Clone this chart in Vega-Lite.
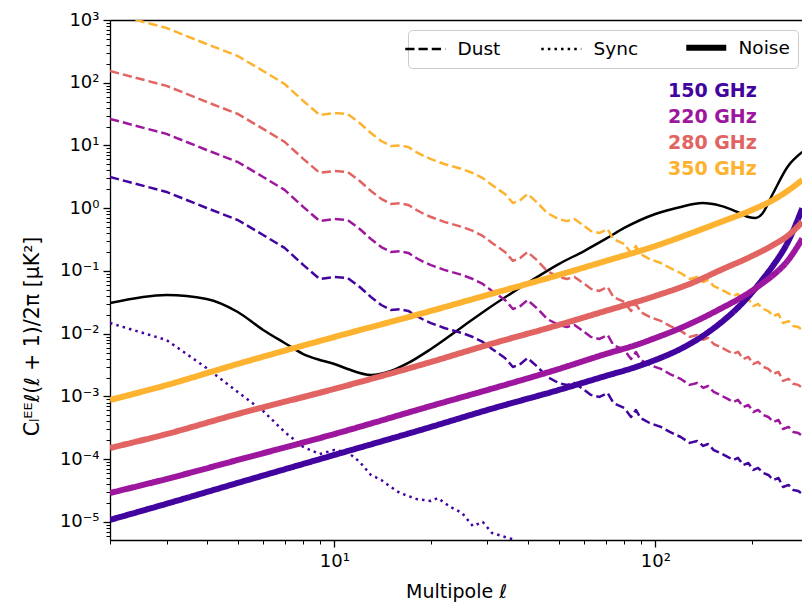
{
  "$schema": "https://vega.github.io/schema/vega-lite/v6.json",
  "width": 692,
  "height": 520,
  "autosize": {"type": "none"},
  "padding": {"left": 110, "top": 20, "right": 0, "bottom": 62},
  "background": "white",
  "config": {
    "font": "DejaVu Sans",
    "view": {"stroke": null},
    "axis": {
      "grid": false,
      "labelFont": "DejaVu Sans",
      "titleFont": "DejaVu Sans",
      "labelColor": "black",
      "titleColor": "black",
      "tickColor": "black",
      "domainColor": "black",
      "titleFontWeight": "normal"
    },
    "legend": {"labelFont": "DejaVu Sans", "labelColor": "black"}
  },
  "datasets": {
    "cmb": [
      {"ell": 2, "cl": 0.0309}, {"ell": 3, "cl": 0.0415}, {"ell": 4, "cl": 0.0358},
      {"ell": 5, "cl": 0.0222}, {"ell": 6, "cl": 0.0115}, {"ell": 7, "cl": 0.00713},
      {"ell": 8, "cl": 0.00475}, {"ell": 9, "cl": 0.00382}, {"ell": 10, "cl": 0.0033},
      {"ell": 11, "cl": 0.00274}, {"ell": 13, "cl": 0.0022}, {"ell": 15, "cl": 0.00255},
      {"ell": 17, "cl": 0.00342}, {"ell": 20, "cl": 0.00571}, {"ell": 25, "cl": 0.01282},
      {"ell": 30, "cl": 0.0248}, {"ell": 40, "cl": 0.0644}, {"ell": 50, "cl": 0.129},
      {"ell": 60, "cl": 0.208}, {"ell": 70, "cl": 0.324}, {"ell": 80, "cl": 0.485},
      {"ell": 100, "cl": 0.81}, {"ell": 120, "cl": 1.05}, {"ell": 140, "cl": 1.21},
      {"ell": 160, "cl": 1.09}, {"ell": 180, "cl": 0.871}, {"ell": 195, "cl": 0.726},
      {"ell": 205, "cl": 0.7}, {"ell": 215, "cl": 0.81}, {"ell": 233, "cl": 1.75},
      {"ell": 258, "cl": 4.54}, {"ell": 287, "cl": 7.87}
    ],
    "curves": [
      {"comp": "Noise", "freq": "150 GHz", "ell": 2, "cl": 1.08e-5},
      {"comp": "Noise", "freq": "150 GHz", "ell": 3, "cl": 1.95e-5},
      {"comp": "Noise", "freq": "150 GHz", "ell": 5, "cl": 4.19e-5},
      {"comp": "Noise", "freq": "150 GHz", "ell": 10, "cl": 1.17e-4},
      {"comp": "Noise", "freq": "150 GHz", "ell": 20, "cl": 3.27e-4},
      {"comp": "Noise", "freq": "150 GHz", "ell": 30, "cl": 6.1e-4},
      {"comp": "Noise", "freq": "150 GHz", "ell": 50, "cl": 1.27e-3},
      {"comp": "Noise", "freq": "150 GHz", "ell": 70, "cl": 2.12e-3},
      {"comp": "Noise", "freq": "150 GHz", "ell": 88, "cl": 3.01e-3},
      {"comp": "Noise", "freq": "150 GHz", "ell": 100, "cl": 3.82e-3},
      {"comp": "Noise", "freq": "150 GHz", "ell": 120, "cl": 5.75e-3},
      {"comp": "Noise", "freq": "150 GHz", "ell": 141, "cl": 9.31e-3},
      {"comp": "Noise", "freq": "150 GHz", "ell": 160, "cl": 0.015},
      {"comp": "Noise", "freq": "150 GHz", "ell": 180, "cl": 0.0255},
      {"comp": "Noise", "freq": "150 GHz", "ell": 200, "cl": 0.0454},
      {"comp": "Noise", "freq": "150 GHz", "ell": 216, "cl": 0.0738},
      {"comp": "Noise", "freq": "150 GHz", "ell": 233, "cl": 0.123},
      {"comp": "Noise", "freq": "150 GHz", "ell": 258, "cl": 0.281},
      {"comp": "Noise", "freq": "150 GHz", "ell": 287, "cl": 0.995},
      {"comp": "Noise", "freq": "220 GHz", "ell": 2, "cl": 2.9e-5},
      {"comp": "Noise", "freq": "220 GHz", "ell": 3, "cl": 4.84e-5},
      {"comp": "Noise", "freq": "220 GHz", "ell": 5, "cl": 9.73e-5},
      {"comp": "Noise", "freq": "220 GHz", "ell": 10, "cl": 2.52e-4},
      {"comp": "Noise", "freq": "220 GHz", "ell": 20, "cl": 7.06e-4},
      {"comp": "Noise", "freq": "220 GHz", "ell": 30, "cl": 1.27e-3},
      {"comp": "Noise", "freq": "220 GHz", "ell": 50, "cl": 2.74e-3},
      {"comp": "Noise", "freq": "220 GHz", "ell": 70, "cl": 4.75e-3},
      {"comp": "Noise", "freq": "220 GHz", "ell": 88, "cl": 6.74e-3},
      {"comp": "Noise", "freq": "220 GHz", "ell": 100, "cl": 8.55e-3},
      {"comp": "Noise", "freq": "220 GHz", "ell": 120, "cl": 0.01236},
      {"comp": "Noise", "freq": "220 GHz", "ell": 141, "cl": 0.01807},
      {"comp": "Noise", "freq": "220 GHz", "ell": 160, "cl": 0.0252},
      {"comp": "Noise", "freq": "220 GHz", "ell": 180, "cl": 0.0348},
      {"comp": "Noise", "freq": "220 GHz", "ell": 200, "cl": 0.0483},
      {"comp": "Noise", "freq": "220 GHz", "ell": 216, "cl": 0.0641},
      {"comp": "Noise", "freq": "220 GHz", "ell": 233, "cl": 0.0861},
      {"comp": "Noise", "freq": "220 GHz", "ell": 258, "cl": 0.144},
      {"comp": "Noise", "freq": "220 GHz", "ell": 287, "cl": 0.328},
      {"comp": "Noise", "freq": "280 GHz", "ell": 2, "cl": 1.51e-4},
      {"comp": "Noise", "freq": "280 GHz", "ell": 3, "cl": 2.52e-4},
      {"comp": "Noise", "freq": "280 GHz", "ell": 5, "cl": 5.26e-4},
      {"comp": "Noise", "freq": "280 GHz", "ell": 10, "cl": 1.32e-3},
      {"comp": "Noise", "freq": "280 GHz", "ell": 20, "cl": 3.55e-3},
      {"comp": "Noise", "freq": "280 GHz", "ell": 30, "cl": 6.62e-3},
      {"comp": "Noise", "freq": "280 GHz", "ell": 50, "cl": 0.0138},
      {"comp": "Noise", "freq": "280 GHz", "ell": 70, "cl": 0.0231},
      {"comp": "Noise", "freq": "280 GHz", "ell": 100, "cl": 0.04},
      {"comp": "Noise", "freq": "280 GHz", "ell": 130, "cl": 0.0644},
      {"comp": "Noise", "freq": "280 GHz", "ell": 160, "cl": 0.104},
      {"comp": "Noise", "freq": "280 GHz", "ell": 200, "cl": 0.173},
      {"comp": "Noise", "freq": "280 GHz", "ell": 230, "cl": 0.25},
      {"comp": "Noise", "freq": "280 GHz", "ell": 258, "cl": 0.361},
      {"comp": "Noise", "freq": "280 GHz", "ell": 287, "cl": 0.604},
      {"comp": "Noise", "freq": "350 GHz", "ell": 2, "cl": 8.79e-4},
      {"comp": "Noise", "freq": "350 GHz", "ell": 3, "cl": 1.52e-3},
      {"comp": "Noise", "freq": "350 GHz", "ell": 5, "cl": 3.3e-3},
      {"comp": "Noise", "freq": "350 GHz", "ell": 10, "cl": 8.87e-3},
      {"comp": "Noise", "freq": "350 GHz", "ell": 20, "cl": 0.0231},
      {"comp": "Noise", "freq": "350 GHz", "ell": 30, "cl": 0.0415},
      {"comp": "Noise", "freq": "350 GHz", "ell": 50, "cl": 0.0863},
      {"comp": "Noise", "freq": "350 GHz", "ell": 70, "cl": 0.144},
      {"comp": "Noise", "freq": "350 GHz", "ell": 100, "cl": 0.25},
      {"comp": "Noise", "freq": "350 GHz", "ell": 130, "cl": 0.404},
      {"comp": "Noise", "freq": "350 GHz", "ell": 160, "cl": 0.604},
      {"comp": "Noise", "freq": "350 GHz", "ell": 200, "cl": 0.938},
      {"comp": "Noise", "freq": "350 GHz", "ell": 230, "cl": 1.31},
      {"comp": "Noise", "freq": "350 GHz", "ell": 258, "cl": 1.88},
      {"comp": "Noise", "freq": "350 GHz", "ell": 287, "cl": 2.82},

      {"comp": "Sync", "freq": "150 GHz", "ell": 2, "cl": 0.0148},
      {"comp": "Sync", "freq": "150 GHz", "ell": 3, "cl": 0.00794},
      {"comp": "Sync", "freq": "150 GHz", "ell": 4, "cl": 0.00284},
      {"comp": "Sync", "freq": "150 GHz", "ell": 5, "cl": 0.00118},
      {"comp": "Sync", "freq": "150 GHz", "ell": 6, "cl": 0.000587},
      {"comp": "Sync", "freq": "150 GHz", "ell": 7, "cl": 0.000272},
      {"comp": "Sync", "freq": "150 GHz", "ell": 8, "cl": 0.000157},
      {"comp": "Sync", "freq": "150 GHz", "ell": 9, "cl": 0.000121},
      {"comp": "Sync", "freq": "150 GHz", "ell": 10, "cl": 0.00014},
      {"comp": "Sync", "freq": "150 GHz", "ell": 11, "cl": 0.00013},
      {"comp": "Sync", "freq": "150 GHz", "ell": 12, "cl": 9.04e-5},
      {"comp": "Sync", "freq": "150 GHz", "ell": 13, "cl": 5.61e-5},
      {"comp": "Sync", "freq": "150 GHz", "ell": 14, "cl": 4.67e-5},
      {"comp": "Sync", "freq": "150 GHz", "ell": 15, "cl": 3.61e-5},
      {"comp": "Sync", "freq": "150 GHz", "ell": 16, "cl": 2.9e-5},
      {"comp": "Sync", "freq": "150 GHz", "ell": 17, "cl": 2.59e-5},
      {"comp": "Sync", "freq": "150 GHz", "ell": 18, "cl": 2.33e-5},
      {"comp": "Sync", "freq": "150 GHz", "ell": 19, "cl": 2.24e-5},
      {"comp": "Sync", "freq": "150 GHz", "ell": 20, "cl": 2.16e-5},
      {"comp": "Sync", "freq": "150 GHz", "ell": 21, "cl": 2.41e-5},
      {"comp": "Sync", "freq": "150 GHz", "ell": 23, "cl": 1.73e-5},
      {"comp": "Sync", "freq": "150 GHz", "ell": 25, "cl": 1.39e-5},
      {"comp": "Sync", "freq": "150 GHz", "ell": 27, "cl": 8.63e-6},
      {"comp": "Sync", "freq": "150 GHz", "ell": 29, "cl": 1.0e-5},
      {"comp": "Sync", "freq": "150 GHz", "ell": 31, "cl": 6.68e-6},
      {"comp": "Sync", "freq": "150 GHz", "ell": 34, "cl": 5.77e-6},
      {"comp": "Sync", "freq": "150 GHz", "ell": 36, "cl": 5.3e-6},
      {"comp": "Sync", "freq": "150 GHz", "ell": 38, "cl": 4.3e-6},
      {"comp": "Sync", "freq": "150 GHz", "ell": 40, "cl": 3.8e-6},

      {"comp": "Dust", "freq": "150 GHz", "ell": 2, "cl": 3.15},
      {"comp": "Dust", "freq": "150 GHz", "ell": 3, "cl": 1.82},
      {"comp": "Dust", "freq": "150 GHz", "ell": 4, "cl": 1.01},
      {"comp": "Dust", "freq": "150 GHz", "ell": 5, "cl": 0.65},
      {"comp": "Dust", "freq": "150 GHz", "ell": 6, "cl": 0.375},
      {"comp": "Dust", "freq": "150 GHz", "ell": 7, "cl": 0.233},
      {"comp": "Dust", "freq": "150 GHz", "ell": 8, "cl": 0.125},
      {"comp": "Dust", "freq": "150 GHz", "ell": 9, "cl": 0.0746},
      {"comp": "Dust", "freq": "150 GHz", "ell": 10, "cl": 0.0802},
      {"comp": "Dust", "freq": "150 GHz", "ell": 11, "cl": 0.0773},
      {"comp": "Dust", "freq": "150 GHz", "ell": 12, "cl": 0.0556},
      {"comp": "Dust", "freq": "150 GHz", "ell": 13, "cl": 0.0385},
      {"comp": "Dust", "freq": "150 GHz", "ell": 14, "cl": 0.0287},
      {"comp": "Dust", "freq": "150 GHz", "ell": 15, "cl": 0.0239},
      {"comp": "Dust", "freq": "150 GHz", "ell": 16, "cl": 0.0245},
      {"comp": "Dust", "freq": "150 GHz", "ell": 17, "cl": 0.0231},
      {"comp": "Dust", "freq": "150 GHz", "ell": 18, "cl": 0.0192},
      {"comp": "Dust", "freq": "150 GHz", "ell": 19, "cl": 0.0166},
      {"comp": "Dust", "freq": "150 GHz", "ell": 20, "cl": 0.0148},
      {"comp": "Dust", "freq": "150 GHz", "ell": 22, "cl": 0.01236},
      {"comp": "Dust", "freq": "150 GHz", "ell": 25, "cl": 0.01028},
      {"comp": "Dust", "freq": "150 GHz", "ell": 27, "cl": 0.00887},
      {"comp": "Dust", "freq": "150 GHz", "ell": 29, "cl": 0.00739},
      {"comp": "Dust", "freq": "150 GHz", "ell": 31, "cl": 0.00571},
      {"comp": "Dust", "freq": "150 GHz", "ell": 34, "cl": 0.00411},
      {"comp": "Dust", "freq": "150 GHz", "ell": 36, "cl": 0.00295},
      {"comp": "Dust", "freq": "150 GHz", "ell": 38, "cl": 0.0033},
      {"comp": "Dust", "freq": "150 GHz", "ell": 40, "cl": 0.00411},
      {"comp": "Dust", "freq": "150 GHz", "ell": 43, "cl": 0.00295},
      {"comp": "Dust", "freq": "150 GHz", "ell": 46, "cl": 0.00205},
      {"comp": "Dust", "freq": "150 GHz", "ell": 50, "cl": 0.00164},
      {"comp": "Dust", "freq": "150 GHz", "ell": 53, "cl": 0.00152},
      {"comp": "Dust", "freq": "150 GHz", "ell": 56, "cl": 0.00164},
      {"comp": "Dust", "freq": "150 GHz", "ell": 59, "cl": 0.00136},
      {"comp": "Dust", "freq": "150 GHz", "ell": 63, "cl": 0.00106},
      {"comp": "Dust", "freq": "150 GHz", "ell": 67, "cl": 0.000982},
      {"comp": "Dust", "freq": "150 GHz", "ell": 71, "cl": 0.00114},
      {"comp": "Dust", "freq": "150 GHz", "ell": 74, "cl": 0.000788},
      {"comp": "Dust", "freq": "150 GHz", "ell": 80, "cl": 0.000656},
      {"comp": "Dust", "freq": "150 GHz", "ell": 84, "cl": 0.000471},
      {"comp": "Dust", "freq": "150 GHz", "ell": 87, "cl": 0.00061},
      {"comp": "Dust", "freq": "150 GHz", "ell": 90, "cl": 0.000454},
      {"comp": "Dust", "freq": "150 GHz", "ell": 96, "cl": 0.000378},
      {"comp": "Dust", "freq": "150 GHz", "ell": 104, "cl": 0.000327},
      {"comp": "Dust", "freq": "150 GHz", "ell": 111, "cl": 0.000272},
      {"comp": "Dust", "freq": "150 GHz", "ell": 120, "cl": 0.000226},
      {"comp": "Dust", "freq": "150 GHz", "ell": 128, "cl": 0.000182},
      {"comp": "Dust", "freq": "150 GHz", "ell": 135, "cl": 0.000195},
      {"comp": "Dust", "freq": "150 GHz", "ell": 141, "cl": 0.000163},
      {"comp": "Dust", "freq": "150 GHz", "ell": 146, "cl": 0.000175},
      {"comp": "Dust", "freq": "150 GHz", "ell": 152, "cl": 0.00014},
      {"comp": "Dust", "freq": "150 GHz", "ell": 159, "cl": 0.000126},
      {"comp": "Dust", "freq": "150 GHz", "ell": 168, "cl": 0.000109},
      {"comp": "Dust", "freq": "150 GHz", "ell": 175, "cl": 9.73e-5},
      {"comp": "Dust", "freq": "150 GHz", "ell": 181, "cl": 1.05e-4},
      {"comp": "Dust", "freq": "150 GHz", "ell": 188, "cl": 8.09e-5},
      {"comp": "Dust", "freq": "150 GHz", "ell": 195, "cl": 8.71e-5},
      {"comp": "Dust", "freq": "150 GHz", "ell": 202, "cl": 6.74e-5},
      {"comp": "Dust", "freq": "150 GHz", "ell": 209, "cl": 7.26e-5},
      {"comp": "Dust", "freq": "150 GHz", "ell": 217, "cl": 6.04e-5},
      {"comp": "Dust", "freq": "150 GHz", "ell": 225, "cl": 5.61e-5},
      {"comp": "Dust", "freq": "150 GHz", "ell": 233, "cl": 4.67e-5},
      {"comp": "Dust", "freq": "150 GHz", "ell": 242, "cl": 5.02e-5},
      {"comp": "Dust", "freq": "150 GHz", "ell": 250, "cl": 3.61e-5},
      {"comp": "Dust", "freq": "150 GHz", "ell": 260, "cl": 3.89e-5},
      {"comp": "Dust", "freq": "150 GHz", "ell": 269, "cl": 3.24e-5},
      {"comp": "Dust", "freq": "150 GHz", "ell": 279, "cl": 3.12e-5},
      {"comp": "Dust", "freq": "150 GHz", "ell": 287, "cl": 2.79e-5},

      {"comp": "Dust", "freq": "220 GHz", "ell": 2, "cl": 26.5},
      {"comp": "Dust", "freq": "220 GHz", "ell": 3, "cl": 15.3},
      {"comp": "Dust", "freq": "220 GHz", "ell": 4, "cl": 8.48},
      {"comp": "Dust", "freq": "220 GHz", "ell": 5, "cl": 5.46},
      {"comp": "Dust", "freq": "220 GHz", "ell": 6, "cl": 3.15},
      {"comp": "Dust", "freq": "220 GHz", "ell": 7, "cl": 1.96},
      {"comp": "Dust", "freq": "220 GHz", "ell": 8, "cl": 1.05},
      {"comp": "Dust", "freq": "220 GHz", "ell": 9, "cl": 0.627},
      {"comp": "Dust", "freq": "220 GHz", "ell": 10, "cl": 0.674},
      {"comp": "Dust", "freq": "220 GHz", "ell": 11, "cl": 0.649},
      {"comp": "Dust", "freq": "220 GHz", "ell": 12, "cl": 0.467},
      {"comp": "Dust", "freq": "220 GHz", "ell": 13, "cl": 0.323},
      {"comp": "Dust", "freq": "220 GHz", "ell": 14, "cl": 0.241},
      {"comp": "Dust", "freq": "220 GHz", "ell": 15, "cl": 0.201},
      {"comp": "Dust", "freq": "220 GHz", "ell": 16, "cl": 0.206},
      {"comp": "Dust", "freq": "220 GHz", "ell": 17, "cl": 0.194},
      {"comp": "Dust", "freq": "220 GHz", "ell": 18, "cl": 0.161},
      {"comp": "Dust", "freq": "220 GHz", "ell": 19, "cl": 0.139},
      {"comp": "Dust", "freq": "220 GHz", "ell": 20, "cl": 0.124},
      {"comp": "Dust", "freq": "220 GHz", "ell": 22, "cl": 0.104},
      {"comp": "Dust", "freq": "220 GHz", "ell": 25, "cl": 0.0864},
      {"comp": "Dust", "freq": "220 GHz", "ell": 27, "cl": 0.0745},
      {"comp": "Dust", "freq": "220 GHz", "ell": 29, "cl": 0.0621},
      {"comp": "Dust", "freq": "220 GHz", "ell": 31, "cl": 0.048},
      {"comp": "Dust", "freq": "220 GHz", "ell": 34, "cl": 0.0345},
      {"comp": "Dust", "freq": "220 GHz", "ell": 36, "cl": 0.0248},
      {"comp": "Dust", "freq": "220 GHz", "ell": 38, "cl": 0.0277},
      {"comp": "Dust", "freq": "220 GHz", "ell": 40, "cl": 0.0345},
      {"comp": "Dust", "freq": "220 GHz", "ell": 43, "cl": 0.0248},
      {"comp": "Dust", "freq": "220 GHz", "ell": 46, "cl": 0.0172},
      {"comp": "Dust", "freq": "220 GHz", "ell": 50, "cl": 0.0138},
      {"comp": "Dust", "freq": "220 GHz", "ell": 53, "cl": 0.0128},
      {"comp": "Dust", "freq": "220 GHz", "ell": 56, "cl": 0.0138},
      {"comp": "Dust", "freq": "220 GHz", "ell": 59, "cl": 0.0114},
      {"comp": "Dust", "freq": "220 GHz", "ell": 63, "cl": 0.0089},
      {"comp": "Dust", "freq": "220 GHz", "ell": 67, "cl": 0.00825},
      {"comp": "Dust", "freq": "220 GHz", "ell": 71, "cl": 0.00958},
      {"comp": "Dust", "freq": "220 GHz", "ell": 74, "cl": 0.00662},
      {"comp": "Dust", "freq": "220 GHz", "ell": 80, "cl": 0.00551},
      {"comp": "Dust", "freq": "220 GHz", "ell": 84, "cl": 0.00396},
      {"comp": "Dust", "freq": "220 GHz", "ell": 87, "cl": 0.00512},
      {"comp": "Dust", "freq": "220 GHz", "ell": 90, "cl": 0.00381},
      {"comp": "Dust", "freq": "220 GHz", "ell": 96, "cl": 0.00318},
      {"comp": "Dust", "freq": "220 GHz", "ell": 104, "cl": 0.00275},
      {"comp": "Dust", "freq": "220 GHz", "ell": 111, "cl": 0.00228},
      {"comp": "Dust", "freq": "220 GHz", "ell": 120, "cl": 0.0019},
      {"comp": "Dust", "freq": "220 GHz", "ell": 128, "cl": 0.00153},
      {"comp": "Dust", "freq": "220 GHz", "ell": 135, "cl": 0.00164},
      {"comp": "Dust", "freq": "220 GHz", "ell": 141, "cl": 0.00137},
      {"comp": "Dust", "freq": "220 GHz", "ell": 146, "cl": 0.00147},
      {"comp": "Dust", "freq": "220 GHz", "ell": 152, "cl": 0.00118},
      {"comp": "Dust", "freq": "220 GHz", "ell": 159, "cl": 0.00106},
      {"comp": "Dust", "freq": "220 GHz", "ell": 168, "cl": 0.000916},
      {"comp": "Dust", "freq": "220 GHz", "ell": 175, "cl": 0.000817},
      {"comp": "Dust", "freq": "220 GHz", "ell": 181, "cl": 0.000882},
      {"comp": "Dust", "freq": "220 GHz", "ell": 188, "cl": 0.00068},
      {"comp": "Dust", "freq": "220 GHz", "ell": 195, "cl": 0.000732},
      {"comp": "Dust", "freq": "220 GHz", "ell": 202, "cl": 0.000566},
      {"comp": "Dust", "freq": "220 GHz", "ell": 209, "cl": 0.00061},
      {"comp": "Dust", "freq": "220 GHz", "ell": 217, "cl": 0.000507},
      {"comp": "Dust", "freq": "220 GHz", "ell": 225, "cl": 0.000471},
      {"comp": "Dust", "freq": "220 GHz", "ell": 233, "cl": 0.000392},
      {"comp": "Dust", "freq": "220 GHz", "ell": 242, "cl": 0.000422},
      {"comp": "Dust", "freq": "220 GHz", "ell": 250, "cl": 0.000303},
      {"comp": "Dust", "freq": "220 GHz", "ell": 260, "cl": 0.000327},
      {"comp": "Dust", "freq": "220 GHz", "ell": 269, "cl": 0.000272},
      {"comp": "Dust", "freq": "220 GHz", "ell": 279, "cl": 0.000262},
      {"comp": "Dust", "freq": "220 GHz", "ell": 287, "cl": 0.000234},

      {"comp": "Dust", "freq": "280 GHz", "ell": 2, "cl": 154},
      {"comp": "Dust", "freq": "280 GHz", "ell": 3, "cl": 89.2},
      {"comp": "Dust", "freq": "280 GHz", "ell": 4, "cl": 49.5},
      {"comp": "Dust", "freq": "280 GHz", "ell": 5, "cl": 31.9},
      {"comp": "Dust", "freq": "280 GHz", "ell": 6, "cl": 18.4},
      {"comp": "Dust", "freq": "280 GHz", "ell": 7, "cl": 11.4},
      {"comp": "Dust", "freq": "280 GHz", "ell": 8, "cl": 6.13},
      {"comp": "Dust", "freq": "280 GHz", "ell": 9, "cl": 3.66},
      {"comp": "Dust", "freq": "280 GHz", "ell": 10, "cl": 3.93},
      {"comp": "Dust", "freq": "280 GHz", "ell": 11, "cl": 3.79},
      {"comp": "Dust", "freq": "280 GHz", "ell": 12, "cl": 2.72},
      {"comp": "Dust", "freq": "280 GHz", "ell": 13, "cl": 1.89},
      {"comp": "Dust", "freq": "280 GHz", "ell": 14, "cl": 1.41},
      {"comp": "Dust", "freq": "280 GHz", "ell": 15, "cl": 1.17},
      {"comp": "Dust", "freq": "280 GHz", "ell": 16, "cl": 1.2},
      {"comp": "Dust", "freq": "280 GHz", "ell": 17, "cl": 1.13},
      {"comp": "Dust", "freq": "280 GHz", "ell": 18, "cl": 0.941},
      {"comp": "Dust", "freq": "280 GHz", "ell": 19, "cl": 0.813},
      {"comp": "Dust", "freq": "280 GHz", "ell": 20, "cl": 0.725},
      {"comp": "Dust", "freq": "280 GHz", "ell": 22, "cl": 0.606},
      {"comp": "Dust", "freq": "280 GHz", "ell": 25, "cl": 0.504},
      {"comp": "Dust", "freq": "280 GHz", "ell": 27, "cl": 0.435},
      {"comp": "Dust", "freq": "280 GHz", "ell": 29, "cl": 0.362},
      {"comp": "Dust", "freq": "280 GHz", "ell": 31, "cl": 0.28},
      {"comp": "Dust", "freq": "280 GHz", "ell": 34, "cl": 0.201},
      {"comp": "Dust", "freq": "280 GHz", "ell": 36, "cl": 0.145},
      {"comp": "Dust", "freq": "280 GHz", "ell": 38, "cl": 0.162},
      {"comp": "Dust", "freq": "280 GHz", "ell": 40, "cl": 0.201},
      {"comp": "Dust", "freq": "280 GHz", "ell": 43, "cl": 0.145},
      {"comp": "Dust", "freq": "280 GHz", "ell": 46, "cl": 0.1},
      {"comp": "Dust", "freq": "280 GHz", "ell": 50, "cl": 0.0804},
      {"comp": "Dust", "freq": "280 GHz", "ell": 53, "cl": 0.0745},
      {"comp": "Dust", "freq": "280 GHz", "ell": 56, "cl": 0.0804},
      {"comp": "Dust", "freq": "280 GHz", "ell": 59, "cl": 0.0666},
      {"comp": "Dust", "freq": "280 GHz", "ell": 63, "cl": 0.0519},
      {"comp": "Dust", "freq": "280 GHz", "ell": 67, "cl": 0.0481},
      {"comp": "Dust", "freq": "280 GHz", "ell": 71, "cl": 0.0559},
      {"comp": "Dust", "freq": "280 GHz", "ell": 74, "cl": 0.0386},
      {"comp": "Dust", "freq": "280 GHz", "ell": 80, "cl": 0.0321},
      {"comp": "Dust", "freq": "280 GHz", "ell": 84, "cl": 0.0231},
      {"comp": "Dust", "freq": "280 GHz", "ell": 87, "cl": 0.0299},
      {"comp": "Dust", "freq": "280 GHz", "ell": 90, "cl": 0.0222},
      {"comp": "Dust", "freq": "280 GHz", "ell": 96, "cl": 0.0185},
      {"comp": "Dust", "freq": "280 GHz", "ell": 104, "cl": 0.016},
      {"comp": "Dust", "freq": "280 GHz", "ell": 111, "cl": 0.0133},
      {"comp": "Dust", "freq": "280 GHz", "ell": 120, "cl": 0.0111},
      {"comp": "Dust", "freq": "280 GHz", "ell": 128, "cl": 0.00892},
      {"comp": "Dust", "freq": "280 GHz", "ell": 135, "cl": 0.00956},
      {"comp": "Dust", "freq": "280 GHz", "ell": 141, "cl": 0.00799},
      {"comp": "Dust", "freq": "280 GHz", "ell": 146, "cl": 0.00858},
      {"comp": "Dust", "freq": "280 GHz", "ell": 152, "cl": 0.00686},
      {"comp": "Dust", "freq": "280 GHz", "ell": 159, "cl": 0.00617},
      {"comp": "Dust", "freq": "280 GHz", "ell": 168, "cl": 0.00534},
      {"comp": "Dust", "freq": "280 GHz", "ell": 175, "cl": 0.00477},
      {"comp": "Dust", "freq": "280 GHz", "ell": 181, "cl": 0.00515},
      {"comp": "Dust", "freq": "280 GHz", "ell": 188, "cl": 0.00396},
      {"comp": "Dust", "freq": "280 GHz", "ell": 195, "cl": 0.00427},
      {"comp": "Dust", "freq": "280 GHz", "ell": 202, "cl": 0.0033},
      {"comp": "Dust", "freq": "280 GHz", "ell": 209, "cl": 0.00356},
      {"comp": "Dust", "freq": "280 GHz", "ell": 217, "cl": 0.00296},
      {"comp": "Dust", "freq": "280 GHz", "ell": 225, "cl": 0.00275},
      {"comp": "Dust", "freq": "280 GHz", "ell": 233, "cl": 0.00229},
      {"comp": "Dust", "freq": "280 GHz", "ell": 242, "cl": 0.00246},
      {"comp": "Dust", "freq": "280 GHz", "ell": 250, "cl": 0.00177},
      {"comp": "Dust", "freq": "280 GHz", "ell": 260, "cl": 0.00191},
      {"comp": "Dust", "freq": "280 GHz", "ell": 269, "cl": 0.00159},
      {"comp": "Dust", "freq": "280 GHz", "ell": 279, "cl": 0.00153},
      {"comp": "Dust", "freq": "280 GHz", "ell": 287, "cl": 0.00137},

      {"comp": "Dust", "freq": "350 GHz", "ell": 2, "cl": 1290},
      {"comp": "Dust", "freq": "350 GHz", "ell": 3, "cl": 746},
      {"comp": "Dust", "freq": "350 GHz", "ell": 4, "cl": 414},
      {"comp": "Dust", "freq": "350 GHz", "ell": 5, "cl": 267},
      {"comp": "Dust", "freq": "350 GHz", "ell": 6, "cl": 154},
      {"comp": "Dust", "freq": "350 GHz", "ell": 7, "cl": 95.5},
      {"comp": "Dust", "freq": "350 GHz", "ell": 8, "cl": 51.3},
      {"comp": "Dust", "freq": "350 GHz", "ell": 9, "cl": 30.6},
      {"comp": "Dust", "freq": "350 GHz", "ell": 10, "cl": 32.9},
      {"comp": "Dust", "freq": "350 GHz", "ell": 11, "cl": 31.7},
      {"comp": "Dust", "freq": "350 GHz", "ell": 12, "cl": 22.8},
      {"comp": "Dust", "freq": "350 GHz", "ell": 13, "cl": 15.8},
      {"comp": "Dust", "freq": "350 GHz", "ell": 14, "cl": 11.8},
      {"comp": "Dust", "freq": "350 GHz", "ell": 15, "cl": 9.8},
      {"comp": "Dust", "freq": "350 GHz", "ell": 16, "cl": 10.0},
      {"comp": "Dust", "freq": "350 GHz", "ell": 17, "cl": 9.47},
      {"comp": "Dust", "freq": "350 GHz", "ell": 18, "cl": 7.87},
      {"comp": "Dust", "freq": "350 GHz", "ell": 19, "cl": 6.81},
      {"comp": "Dust", "freq": "350 GHz", "ell": 20, "cl": 6.07},
      {"comp": "Dust", "freq": "350 GHz", "ell": 22, "cl": 5.07},
      {"comp": "Dust", "freq": "350 GHz", "ell": 25, "cl": 4.21},
      {"comp": "Dust", "freq": "350 GHz", "ell": 27, "cl": 3.64},
      {"comp": "Dust", "freq": "350 GHz", "ell": 29, "cl": 3.03},
      {"comp": "Dust", "freq": "350 GHz", "ell": 31, "cl": 2.34},
      {"comp": "Dust", "freq": "350 GHz", "ell": 34, "cl": 1.69},
      {"comp": "Dust", "freq": "350 GHz", "ell": 36, "cl": 1.21},
      {"comp": "Dust", "freq": "350 GHz", "ell": 38, "cl": 1.35},
      {"comp": "Dust", "freq": "350 GHz", "ell": 40, "cl": 1.69},
      {"comp": "Dust", "freq": "350 GHz", "ell": 43, "cl": 1.21},
      {"comp": "Dust", "freq": "350 GHz", "ell": 46, "cl": 0.841},
      {"comp": "Dust", "freq": "350 GHz", "ell": 50, "cl": 0.672},
      {"comp": "Dust", "freq": "350 GHz", "ell": 53, "cl": 0.623},
      {"comp": "Dust", "freq": "350 GHz", "ell": 56, "cl": 0.672},
      {"comp": "Dust", "freq": "350 GHz", "ell": 59, "cl": 0.558},
      {"comp": "Dust", "freq": "350 GHz", "ell": 63, "cl": 0.435},
      {"comp": "Dust", "freq": "350 GHz", "ell": 67, "cl": 0.403},
      {"comp": "Dust", "freq": "350 GHz", "ell": 71, "cl": 0.467},
      {"comp": "Dust", "freq": "350 GHz", "ell": 74, "cl": 0.323},
      {"comp": "Dust", "freq": "350 GHz", "ell": 80, "cl": 0.269},
      {"comp": "Dust", "freq": "350 GHz", "ell": 84, "cl": 0.193},
      {"comp": "Dust", "freq": "350 GHz", "ell": 87, "cl": 0.25},
      {"comp": "Dust", "freq": "350 GHz", "ell": 90, "cl": 0.186},
      {"comp": "Dust", "freq": "350 GHz", "ell": 96, "cl": 0.155},
      {"comp": "Dust", "freq": "350 GHz", "ell": 104, "cl": 0.134},
      {"comp": "Dust", "freq": "350 GHz", "ell": 111, "cl": 0.112},
      {"comp": "Dust", "freq": "350 GHz", "ell": 120, "cl": 0.0927},
      {"comp": "Dust", "freq": "350 GHz", "ell": 128, "cl": 0.0746},
      {"comp": "Dust", "freq": "350 GHz", "ell": 135, "cl": 0.08},
      {"comp": "Dust", "freq": "350 GHz", "ell": 141, "cl": 0.0668},
      {"comp": "Dust", "freq": "350 GHz", "ell": 146, "cl": 0.0718},
      {"comp": "Dust", "freq": "350 GHz", "ell": 152, "cl": 0.0574},
      {"comp": "Dust", "freq": "350 GHz", "ell": 159, "cl": 0.0517},
      {"comp": "Dust", "freq": "350 GHz", "ell": 168, "cl": 0.0447},
      {"comp": "Dust", "freq": "350 GHz", "ell": 175, "cl": 0.0399},
      {"comp": "Dust", "freq": "350 GHz", "ell": 181, "cl": 0.0431},
      {"comp": "Dust", "freq": "350 GHz", "ell": 188, "cl": 0.0332},
      {"comp": "Dust", "freq": "350 GHz", "ell": 195, "cl": 0.0357},
      {"comp": "Dust", "freq": "350 GHz", "ell": 202, "cl": 0.0276},
      {"comp": "Dust", "freq": "350 GHz", "ell": 209, "cl": 0.0298},
      {"comp": "Dust", "freq": "350 GHz", "ell": 217, "cl": 0.0248},
      {"comp": "Dust", "freq": "350 GHz", "ell": 225, "cl": 0.023},
      {"comp": "Dust", "freq": "350 GHz", "ell": 233, "cl": 0.0191},
      {"comp": "Dust", "freq": "350 GHz", "ell": 242, "cl": 0.0206},
      {"comp": "Dust", "freq": "350 GHz", "ell": 250, "cl": 0.0148},
      {"comp": "Dust", "freq": "350 GHz", "ell": 260, "cl": 0.0159},
      {"comp": "Dust", "freq": "350 GHz", "ell": 269, "cl": 0.0133},
      {"comp": "Dust", "freq": "350 GHz", "ell": 279, "cl": 0.0128},
      {"comp": "Dust", "freq": "350 GHz", "ell": 287, "cl": 0.0114}
    ]
  },
  "layer": [
    {
      "data": {"name": "cmb"},
      "mark": {"type": "line", "color": "black", "strokeWidth": 2.5, "interpolate": "monotone", "clip": true},
      "encoding": {
        "x": {
          "field": "ell", "type": "quantitative",
          "scale": {"type": "log", "domain": [2, 286.4], "nice": false},
          "axis": {
            "orient": "bottom",
            "values": [10, 100],
            "labelExpr": "datum.value < 50 ? '10¹' : '10²'",
            "tickSize": 7, "tickWidth": 1.3,
            "labelFontSize": 18, "labelPadding": 5, "labelFlush": false, "labelOverlap": false,
            "domain": true, "domainWidth": 1.3,
            "title": "Multipole ℓ", "titleFontSize": 19,
            "titleY": 57, "titleBaseline": "alphabetic"
          }
        },
        "y": {
          "field": "cl", "type": "quantitative",
          "scale": {"type": "log", "domain": [5.16e-6, 1000], "nice": false},
          "axis": {
            "orient": "left",
            "values": [1e-5, 1e-4, 1e-3, 1e-2, 1e-1, 1, 10, 100, 1000],
            "labelExpr": "['10⁻⁵','10⁻⁴','10⁻³','10⁻²','10⁻¹','10⁰','10¹','10²','10³'][round(log(datum.value)/LN10)+5]",
            "tickSize": 7, "tickWidth": 1.3,
            "labelFontSize": 18, "labelPadding": 4, "labelFlush": false, "labelOverlap": false,
            "domain": true, "domainWidth": 1.3,
            "title": "Cₗᴱᴱℓ(ℓ + 1)/2π [μK²]", "titleFontSize": 20.5,
            "titleX": -72, "titleY": 316, "titleAngle": 270,
            "titleAlign": "center", "titleBaseline": "alphabetic"
          }
        }
      }
    },
    {
      "data": {"name": "curves"},
      "transform": [{"filter": "datum.comp == 'Dust'"}],
      "mark": {"type": "line", "clip": true, "strokeWidth": 2.5, "strokeCap": "butt", "strokeJoin": "round"},
      "encoding": {
        "x": {
          "field": "ell", "type": "quantitative",
          "scale": {"type": "log", "domain": [2, 286.4], "nice": false},
          "axis": {
            "orient": "bottom",
            "values": [2, 3, 4, 5, 6, 7, 8, 9, 20, 30, 40, 50, 60, 70, 80, 90, 200],
            "labels": false, "tickSize": 4, "tickWidth": 1, "domain": false, "title": null
          }
        },
        "y": {
          "field": "cl", "type": "quantitative",
          "scale": {"type": "log", "domain": [5.16e-6, 1000], "nice": false},
          "axis": {
            "orient": "left",
            "values": [6e-6, 7e-6, 8e-6, 9e-6,
              2e-5, 3e-5, 4e-5, 5e-5, 6e-5, 7e-5, 8e-5, 9e-5,
              2e-4, 3e-4, 4e-4, 5e-4, 6e-4, 7e-4, 8e-4, 9e-4,
              2e-3, 3e-3, 4e-3, 5e-3, 6e-3, 7e-3, 8e-3, 9e-3,
              0.02, 0.03, 0.04, 0.05, 0.06, 0.07, 0.08, 0.09,
              0.2, 0.3, 0.4, 0.5, 0.6, 0.7, 0.8, 0.9,
              2, 3, 4, 5, 6, 7, 8, 9,
              20, 30, 40, 50, 60, 70, 80, 90,
              200, 300, 400, 500, 600, 700, 800, 900],
            "labels": false, "tickSize": 4, "tickWidth": 1, "domain": false, "title": null
          }
        },
        "color": {
          "field": "freq", "type": "nominal",
          "scale": {"domain": ["150 GHz", "220 GHz", "280 GHz", "350 GHz"], "range": ["#42049e", "#9c179e", "#e16462", "#fdb32f"]},
          "legend": {
            "orient": "none", "legendX": 539, "legendY": 61, "title": null,
            "symbolType": "circle", "symbolSize": 1, "symbolOpacity": 0, "symbolStrokeWidth": 0,
            "labelOffset": 0, "labelFontSize": 19, "labelFontWeight": "bold", "labelLimit": 300,
            "padding": 0, "rowPadding": 6,
            "encode": {"labels": {"update": {"fill": {"scale": "color", "field": "value"}}}}
          }
        },
        "strokeDash": {
          "field": "comp", "type": "nominal",
          "scale": {"domain": ["Dust", "Sync", "Noise"], "range": [[9.25, 4], [2.5, 4.1], [1, 0]]},
          "legend": {
            "orient": "none", "legendX": 298, "legendY": 10, "title": null, "direction": "horizontal",
            "symbolType": "stroke", "symbolSize": 1600, "symbolStrokeColor": "black",
            "labelFontSize": 18.5, "labelOffset": 23, "columnPadding": 35, "padding": 8,
            "fillColor": "rgba(255,255,255,0.8)", "strokeColor": "#cccccc", "cornerRadius": 4,
            "encode": {"symbols": {"update": {
              "stroke": {"value": "black"},
              "strokeWidth": {"signal": "datum.value == 'Noise' ? 6 : 2.5"}
            }}}
          }
        }
      }
    },
    {
      "data": {"name": "curves"},
      "transform": [{"filter": "datum.comp == 'Sync'"}],
      "mark": {"type": "line", "clip": true, "strokeWidth": 2.5, "strokeCap": "butt", "strokeJoin": "round"},
      "encoding": {
        "x": {
          "field": "ell", "type": "quantitative",
          "scale": {"type": "log", "domain": [2, 286.4], "nice": false},
          "axis": {"orient": "top", "ticks": false, "labels": false, "domain": true, "domainWidth": 1.3, "title": null}
        },
        "y": {
          "field": "cl", "type": "quantitative",
          "scale": {"type": "log", "domain": [5.16e-6, 1000], "nice": false},
          "axis": null
        },
        "color": {"field": "freq", "type": "nominal"},
        "strokeDash": {"field": "comp", "type": "nominal"}
      }
    },
    {
      "data": {"name": "curves"},
      "transform": [{"filter": "datum.comp == 'Noise'"}],
      "mark": {"type": "line", "clip": true, "strokeWidth": 6, "interpolate": "monotone", "strokeCap": "butt"},
      "encoding": {
        "x": {
          "field": "ell", "type": "quantitative",
          "scale": {"type": "log", "domain": [2, 286.4], "nice": false},
          "axis": null
        },
        "y": {
          "field": "cl", "type": "quantitative",
          "scale": {"type": "log", "domain": [5.16e-6, 1000], "nice": false},
          "axis": null
        },
        "color": {"field": "freq", "type": "nominal"},
        "strokeDash": {"field": "comp", "type": "nominal"}
      }
    }
  ],
  "resolve": {"axis": {"x": "independent", "y": "independent"}}
}
